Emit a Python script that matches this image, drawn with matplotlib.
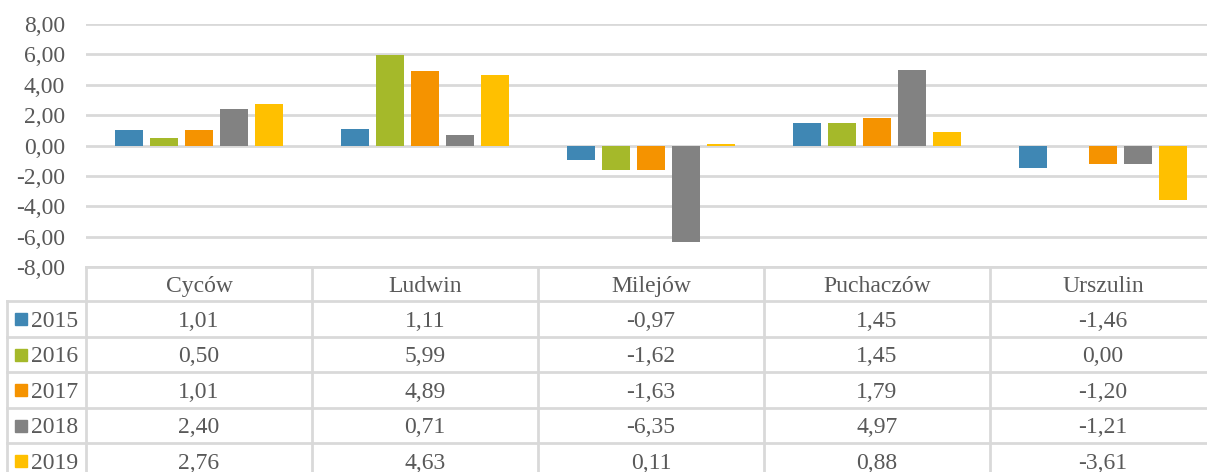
import matplotlib
matplotlib.use("Agg")
import matplotlib.pyplot as plt
from matplotlib.transforms import blended_transform_factory
import numpy as np

categories = ["Cyców", "Ludwin", "Milejów", "Puchaczów", "Urszulin"]
years = ["2015", "2016", "2017", "2018", "2019"]
v2015 = [1.01, 1.11, -0.97, 1.45, -1.46]
v2016 = [0.50, 5.99, -1.62, 1.45, 0.00]
v2017 = [1.01, 4.89, -1.63, 1.79, -1.20]
v2018 = [2.40, 0.71, -6.35, 4.97, -1.21]
v2019 = [2.76, 4.63, 0.11, 0.88, -3.61]
series = [v2015, v2016, v2017, v2018, v2019]
colors = ["#3F87B4", "#A5B92A", "#F59300", "#828282", "#FFC000"]
yticks = [-8, -6, -4, -2, 0, 2, 4, 6, 8]

W, H = 1207, 472
plt.rcParams['font.family'] = ['Liberation Serif', 'DejaVu Serif']
text_color = "#595959"
grid_color = "#D9D9D9"
fs = 17

fig = plt.figure(figsize=(W / 100, H / 100), dpi=100)

def fx(px):
    return px / W

def fy(py):
    return 1 - py / H

ax_left, ax_right = 86, 1216
ax_top, ax_bottom = 24, 267
ax = fig.add_axes([fx(ax_left), fy(ax_bottom), (ax_right - ax_left) / W, (ax_bottom - ax_top) / H])

n = len(categories)
x = np.arange(n)
spacing = 0.155
bw = 0.124
for i, (vals, c) in enumerate(zip(series, colors)):
    ax.bar(x + (i - 2) * spacing, vals, width=bw, color=c, zorder=3)

ax.set_xlim(-0.5, n - 0.5)
ax.set_ylim(-8, 8)
ax.set_yticks(yticks)
ax.set_yticklabels([f"{t:.2f}".replace(".", ",") for t in yticks], color=text_color, fontsize=fs)
ax.tick_params(axis='y', length=0, pad=15)
ax.set_xticks([])
for s in ax.spines.values():
    s.set_visible(False)
ax.yaxis.grid(True, color=grid_color, linewidth=2)
ax.set_axisbelow(True)

# table
tr = blended_transform_factory(ax.transData, fig.transFigure)
row_lines = [267, 301, 337, 372, 408, 443, 479]
lw = 2
fig.add_artist(plt.Line2D([-0.5, n - 0.5], [fy(267), fy(267)], transform=tr, color=grid_color, lw=lw))
for ry in row_lines[1:]:
    fig.add_artist(plt.Line2D([fx(7), fx(ax_right)], [fy(ry), fy(ry)], transform=fig.transFigure,
                              color=grid_color, lw=lw))
fig.add_artist(plt.Line2D([fx(7), fx(7)], [fy(301), fy(480)], transform=fig.transFigure, color=grid_color, lw=lw))
for b in range(n):
    fig.add_artist(plt.Line2D([b - 0.5, b - 0.5], [fy(267), fy(480)], transform=tr, color=grid_color, lw=lw))

half_cap = 7.7
for j, cat in enumerate(categories):
    cy = (267 + 301) / 2
    fig.text(j, fy(cy + half_cap), cat, transform=tr, ha='center', va='baseline',
             fontsize=fs, color=text_color)
for i, (yr, vals, c) in enumerate(zip(years, series, colors)):
    cy = (row_lines[i + 1] + row_lines[i + 2]) / 2
    fig.patches.append(plt.Rectangle((fx(15), fy(cy + 6)), 12 / W, 12 / H, transform=fig.transFigure,
                                     color=c, figure=fig))
    fig.text(fx(31), fy(cy + half_cap), yr, ha='left', va='baseline', fontsize=fs, color=text_color)
    for j, v in enumerate(vals):
        fig.text(j, fy(cy + half_cap), f"{v:.2f}".replace(".", ","), transform=tr, ha='center',
                 va='baseline', fontsize=fs, color=text_color)

fig.savefig("out.png", dpi=100)
